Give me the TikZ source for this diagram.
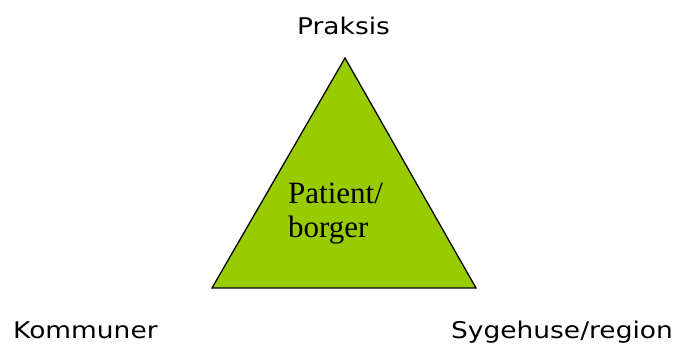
\documentclass[tikz,border=0pt]{standalone}
\usepackage{fontspec}
\setmainfont{Liberation Serif}
\newfontfamily\labelfont[FakeStretch=1.15]{DejaVu Sans}
\usepackage{xcolor}
\definecolor{tgreen}{HTML}{99CC00}

\begin{document}
\begin{tikzpicture}[x=1pt,y=-1pt]
\useasboundingbox (0,0) rectangle (678,347);

\coordinate (A) at (345,58);
\coordinate (B) at (212,288);
\coordinate (C) at (476,288);

%Triangle:
\filldraw[fill=tgreen, draw=black, line width=1.3pt, line join=miter] (A) -- (B) -- (C) -- cycle;

\node[anchor=base, font=\labelfont\fontsize{23}{27}\selectfont, inner sep=0pt] (praksis) at (343.5,35) {Praksis};
\node[anchor=base west, font=\labelfont\fontsize{23}{27}\selectfont, inner sep=0pt] (kommuner) at (13,339) {Kommuner};
\node[anchor=base east, font=\labelfont\fontsize{23}{27}\selectfont, inner sep=0pt] (sygehuse) at (673,339) {Sygehuse/region};

\node[anchor=north west, align=left, inner sep=0pt, font=\fontsize{31}{34}\selectfont] (patient) at (288,183) {Patient/\\borger};
\end{tikzpicture}
\end{document}
